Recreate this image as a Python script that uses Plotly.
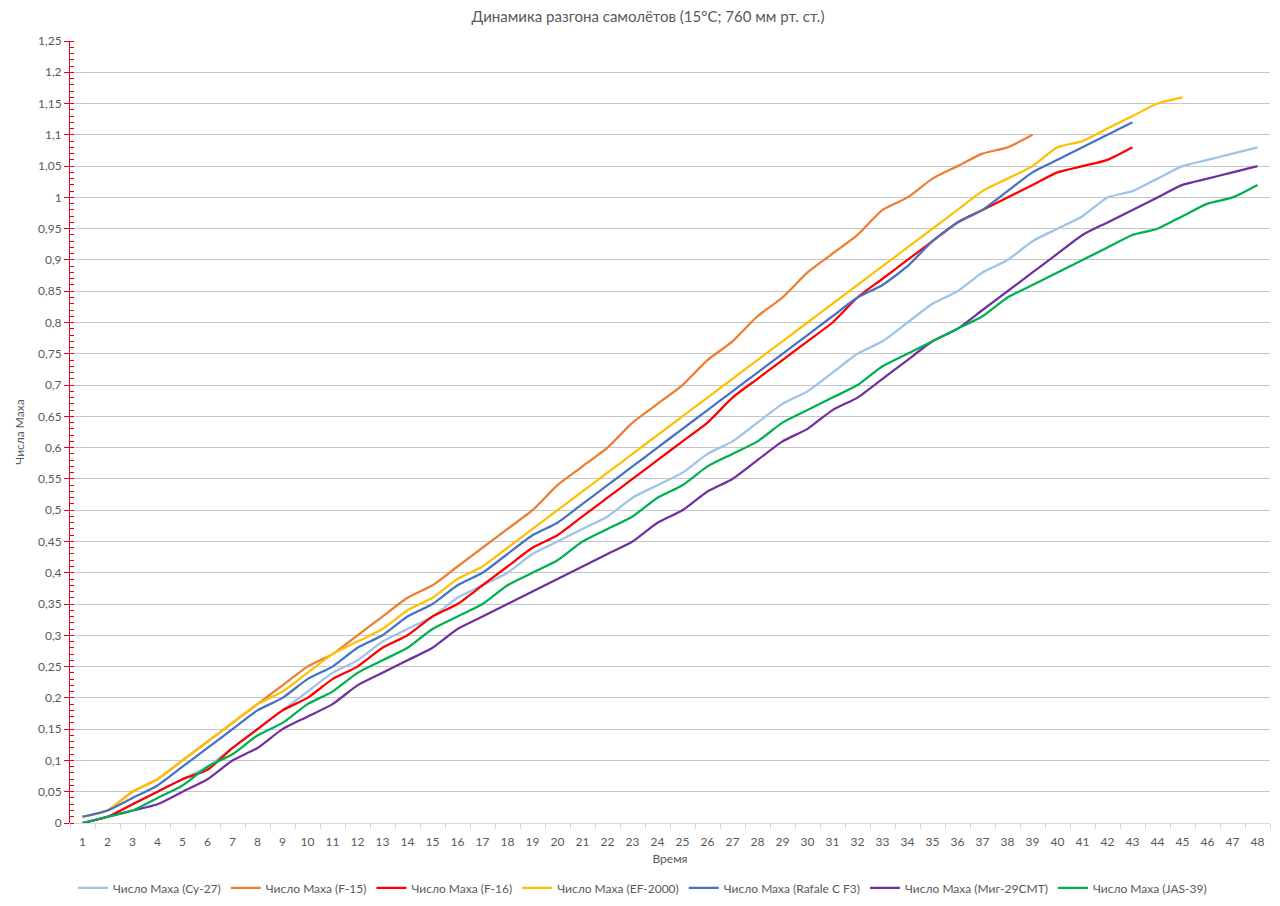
import plotly.graph_objects as go

time = list(range(1, 49))

su27 = [0.00, 0.01, 0.03, 0.05, 0.07, 0.09, 0.12, 0.15, 0.18, 0.21, 0.24, 0.26, 0.29, 0.31, 0.33, 0.36,
        0.38, 0.40, 0.43, 0.45, 0.47, 0.49, 0.52, 0.54, 0.56, 0.59, 0.61, 0.64, 0.67, 0.69, 0.72, 0.75,
        0.77, 0.80, 0.83, 0.85, 0.88, 0.90, 0.93, 0.95, 0.97, 1.00, 1.01, 1.03, 1.05, 1.06, 1.07, 1.08]
f15 = [0.01, 0.02, 0.05, 0.07, 0.10, 0.13, 0.16, 0.19, 0.22, 0.25, 0.27, 0.30, 0.33, 0.36, 0.38, 0.41,
       0.44, 0.47, 0.50, 0.54, 0.57, 0.60, 0.64, 0.67, 0.70, 0.74, 0.77, 0.81, 0.84, 0.88, 0.91, 0.94,
       0.98, 1.00, 1.03, 1.05, 1.07, 1.08, 1.10]
f16 = [0.00, 0.01, 0.03, 0.05, 0.07, 0.085, 0.12, 0.15, 0.18, 0.20, 0.23, 0.25, 0.28, 0.30, 0.33, 0.35,
       0.38, 0.41, 0.44, 0.46, 0.49, 0.52, 0.55, 0.58, 0.61, 0.64, 0.68, 0.71, 0.74, 0.77, 0.80, 0.84,
       0.87, 0.90, 0.93, 0.96, 0.98, 1.00, 1.02, 1.04, 1.05, 1.06, 1.08]
ef2000 = [0.01, 0.02, 0.05, 0.07, 0.10, 0.13, 0.16, 0.19, 0.21, 0.24, 0.27, 0.29, 0.31, 0.34, 0.36, 0.39,
          0.41, 0.44, 0.47, 0.50, 0.53, 0.56, 0.59, 0.62, 0.65, 0.68, 0.71, 0.74, 0.77, 0.80, 0.83, 0.86,
          0.89, 0.92, 0.95, 0.98, 1.01, 1.03, 1.05, 1.08, 1.09, 1.11, 1.13, 1.15, 1.16]
rafale = [0.01, 0.02, 0.04, 0.06, 0.09, 0.12, 0.15, 0.18, 0.20, 0.23, 0.25, 0.28, 0.30, 0.33, 0.35, 0.38,
          0.40, 0.43, 0.46, 0.48, 0.51, 0.54, 0.57, 0.60, 0.63, 0.66, 0.69, 0.72, 0.75, 0.78, 0.81, 0.84,
          0.86, 0.89, 0.93, 0.96, 0.98, 1.01, 1.04, 1.06, 1.08, 1.10, 1.12]
mig29 = [0.00, 0.01, 0.02, 0.03, 0.05, 0.07, 0.10, 0.12, 0.15, 0.17, 0.19, 0.22, 0.24, 0.26, 0.28, 0.31,
         0.33, 0.35, 0.37, 0.39, 0.41, 0.43, 0.45, 0.48, 0.50, 0.53, 0.55, 0.58, 0.61, 0.63, 0.66, 0.68,
         0.71, 0.74, 0.77, 0.79, 0.82, 0.85, 0.88, 0.91, 0.94, 0.96, 0.98, 1.00, 1.02, 1.03, 1.04, 1.05]
jas39 = [0.00, 0.01, 0.02, 0.04, 0.06, 0.09, 0.11, 0.14, 0.16, 0.19, 0.21, 0.24, 0.26, 0.28, 0.31, 0.33,
         0.35, 0.38, 0.40, 0.42, 0.45, 0.47, 0.49, 0.52, 0.54, 0.57, 0.59, 0.61, 0.64, 0.66, 0.68, 0.70,
         0.73, 0.75, 0.77, 0.79, 0.81, 0.84, 0.86, 0.88, 0.90, 0.92, 0.94, 0.95, 0.97, 0.99, 1.00, 1.02]

series = [
    ("Число Маха (Су-27)", su27, "#9DC3E6"),
    ("Число Маха (F-15)", f15, "#ED7D31"),
    ("Число Маха (F-16)", f16, "#FF0000"),
    ("Число Маха (EF-2000)", ef2000, "#FFC000"),
    ("Число Маха (Rafale C F3)", rafale, "#4472C4"),
    ("Число Маха (Миг-29СМТ)", mig29, "#7030A0"),
    ("Число Маха (JAS-39)", jas39, "#00B050"),
]

fig = go.Figure()
for name, vals, color in series:
    fig.add_trace(go.Scatter(
        x=time[:len(vals)], y=vals, name=name, mode="lines",
        line=dict(color=color, width=2.25, shape="spline", smoothing=0.6),
    ))

font_family = "Lato, 'Open Sans', sans-serif"
fig.update_layout(
    width=1280, height=906,
    paper_bgcolor="white", plot_bgcolor="white",
    separators=", ",
    font=dict(family=font_family, size=12, color="#595959"),
    title=dict(text="Динамика разгона самолётов (15°C; 760 мм рт. ст.)",
               x=0.5, xanchor="center", y=0.99, yanchor="middle",
               font=dict(size=15, color="#595959")),
    margin=dict(l=59, r=18, t=33, b=91),
    showlegend=True,
    legend=dict(orientation="h", x=0.477, xanchor="center", y=-0.083, yanchor="middle",
                font=dict(size=12, color="#595959"), itemwidth=30,
                traceorder="normal"),
)
fig.update_xaxes(
    range=[0.5, 48.5], tickmode="array", tickvals=time, ticktext=[str(t) for t in time],
    showgrid=False, zeroline=False, showline=True, linecolor="#d9d9d9", linewidth=1,
    ticks="", ticklen=0, ticklabelstandoff=8,
    minor=dict(tickmode="linear", tick0=0.5, dtick=1, ticks="outside", ticklen=5,
               tickcolor="#d9d9d9", showgrid=False),
    tickfont=dict(size=12, color="#595959"),
    title=dict(text="Время", font=dict(size=12, color="#595959"), standoff=6),
)
fig.update_yaxes(
    range=[0, 1.25], tickmode="linear", tick0=0, dtick=0.05,
    showgrid=True, gridcolor="#c6c6c6", gridwidth=1, zeroline=False,
    showline=True, linecolor="#E8001C", linewidth=1,
    ticks="outside", ticklen=5, tickcolor="#E8001C",
    minor=dict(dtick=0.01, ticks="inside", ticklen=4, tickcolor="#E8001C", showgrid=False),
    tickfont=dict(size=12, color="#595959"),
    title=dict(text="Числа Маха", font=dict(size=12, color="#595959"), standoff=10),
)

fig.write_html("out.html")
